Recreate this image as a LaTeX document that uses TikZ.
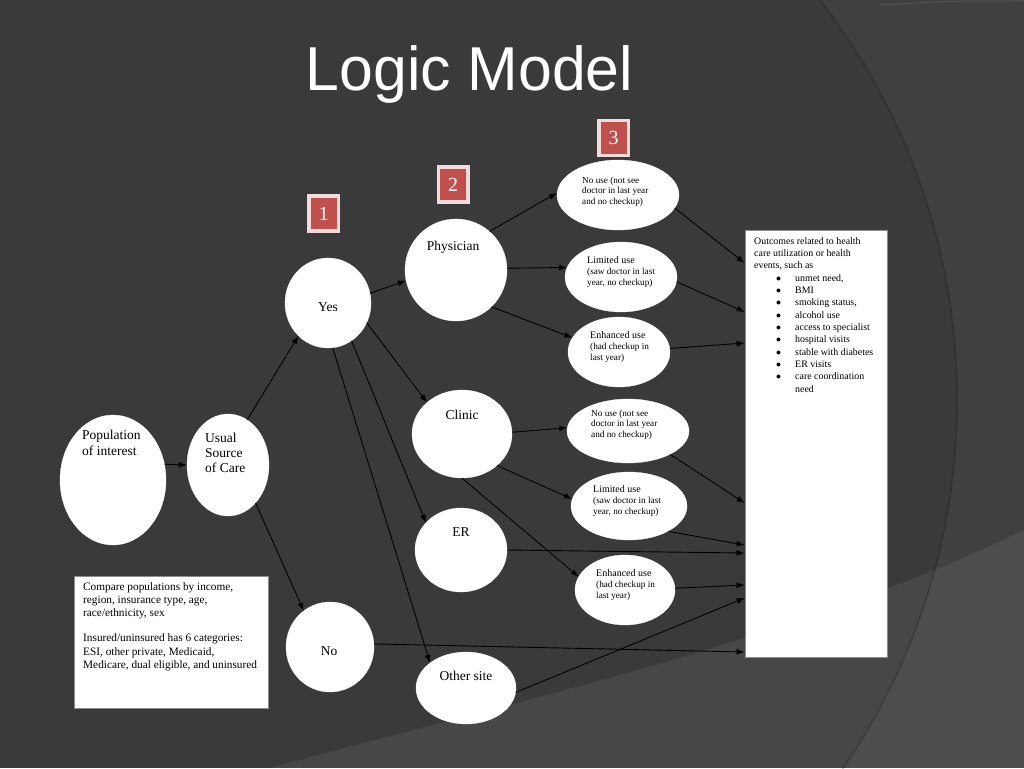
\documentclass[tikz,border=0pt]{standalone}
\usepackage{fontspec}
\setmainfont{Liberation Serif}
\newfontfamily\titlefont{Liberation Sans}
\usetikzlibrary{arrows.meta,shapes.geometric}
\definecolor{bgdark}{HTML}{3A3A3A}
\definecolor{badgered}{HTML}{C0504D}
\definecolor{badgeedge}{HTML}{F2DCDB}
\definecolor{boxedge}{HTML}{8C8C8C}
\newcommand\outbullet{\hspace*{22pt}\makebox[19pt][l]{$\bullet$}}
\begin{document}
\begin{tikzpicture}[x=1pt,y=-1pt,
  oval/.style={ellipse, fill=white, draw=white, line width=0.3pt, inner sep=0},
  bigtxt/.style={font=\fontsize{13.5}{15.5}\selectfont, text=black, inner sep=0, align=left},
  smalltxt/.style={font=\fontsize{9.2}{10.8}\selectfont, text=black, inner sep=0, align=left},
  otxt/.style={font=\fontsize{9.9}{12.35}\selectfont, text=black, inner sep=0, align=left},
  ctxt/.style={font=\fontsize{11.3}{13.4}\selectfont, text=black, inner sep=0, align=left},
  badge/.style={fill=badgered, draw=badgeedge, line width=3.5pt, minimum width=29.5pt,
    minimum height=35pt, inner sep=0, text=white, font=\fontsize{20}{20}\selectfont},
  infobox/.style={draw=boxedge, fill=white, line width=0.8pt, inner sep=0},
  arr/.style={-{Latex[length=8pt,width=6pt]}, line width=0.9pt, black}]
\useasboundingbox (0,0) rectangle (1024,768);
% background
\fill[bgdark] (0,0) rectangle (1024,768);
\begin{scope}
  \clip (0,0) rectangle (1024,768);
  \fill[white, opacity=0.03, even odd rule] (0,0) rectangle (1024,768) (305,400) circle[radius=652];
  \fill[white, opacity=0.07] (270,768) .. controls (500,705) and (800,640) .. (1024,530) -- (1024,768) -- cycle;
  \draw[black, opacity=0.2, line width=1.5pt] (305,400) circle[radius=652];
  \draw[white, opacity=0.1, line width=1pt] (880,5) .. controls (950,1) .. (1024,1);
\end{scope}
% title
\node[font=\titlefont\fontsize{62}{62}\selectfont, text=white, anchor=base, inner sep=0, xscale=0.98] (title) at (469.5,90) {Logic Model};
% badges
\node[badge] (b1) at (323.5,213.5) {1};
\node[badge] (b2) at (453,184.5) {2};
\node[badge] (b3) at (613.5,138) {3};
% ovals
\node[oval, minimum width=106, minimum height=130] (pop) at (113,480) {};
\node[oval, minimum width=82, minimum height=102] (usual) at (228,465) {};
\node[oval, minimum width=86, minimum height=90] (yes) at (328,303) {};
\node[oval, minimum width=88, minimum height=90] (no) at (330,647) {};
\node[oval, minimum width=102, minimum height=102] (phys) at (456,270) {};
\node[oval, minimum width=100, minimum height=88] (clinic) at (462,434) {};
\node[oval, minimum width=92, minimum height=84] (er) at (461,550) {};
\node[oval, minimum width=100, minimum height=72] (other) at (466,688) {};
\node[oval, minimum width=122, minimum height=70] (nu1) at (618,195) {};
\node[oval, minimum width=112, minimum height=70] (lim1) at (621,277) {};
\node[oval, minimum width=102, minimum height=70] (enh1) at (619,352) {};
\node[oval, minimum width=122, minimum height=64] (nu2) at (628,431) {};
\node[oval, minimum width=116, minimum height=68] (lim2) at (629,506) {};
\node[oval, minimum width=100, minimum height=70] (enh2) at (625,590) {};
% boxes
\node[infobox, minimum width=142, minimum height=427] (out) at (816,443.5) {};
\node[infobox, minimum width=194, minimum height=132] (cmp) at (171,642) {};
% texts
\node[bigtxt, anchor=north west] (popT) at (82,430) {Population\\of interest};
\node[bigtxt, anchor=north west, font=\fontsize{13.5}{15}\selectfont] (usualT) at (205,433) {Usual\\Source\\of Care};
\node[bigtxt, anchor=base] (yesT) at (328,311) {Yes};
\node[bigtxt, anchor=base] (noT) at (329,655) {No};
\node[bigtxt, anchor=base] (physT) at (453,250) {Physician};
\node[bigtxt, anchor=base] (clinicT) at (462,419) {Clinic};
\node[bigtxt, anchor=base] (erT) at (461,536) {ER};
\node[bigtxt, anchor=base] (otherT) at (466,680) {Other site};
\node[smalltxt, anchor=north west] (nu1T) at (582,176.5) {No use (not see\\doctor in last year\\and no checkup)};
\node[smalltxt, anchor=north west] (lim1T) at (587,256.5) {{\fontsize{10}{11}\selectfont Limited use}\\(saw doctor in last\\year, no checkup)};
\node[smalltxt, anchor=north west] (enh1T) at (590,331.5) {{\fontsize{10}{11}\selectfont Enhanced use}\\(had checkup in\\last year)};
\node[smalltxt, anchor=north west] (nu2T) at (591,409.5) {No use (not see\\doctor in last year\\and no checkup)};
\node[smalltxt, anchor=north west] (lim2T) at (593,485.5) {{\fontsize{10}{11}\selectfont Limited use}\\(saw doctor in last\\year, no checkup)};
\node[smalltxt, anchor=north west] (enh2T) at (596,569.5) {{\fontsize{10}{11}\selectfont Enhanced use}\\(had checkup in\\last year)};
\node[otxt, anchor=north west] (outT) at (754,237) {Outcomes related to health\\care utilization or health\\events, such as\\
\outbullet unmet need,\\\outbullet BMI\\\outbullet smoking status,\\\outbullet alcohol use\\
\outbullet access to specialist\\\outbullet hospital visits\\\outbullet stable with diabetes\\
\outbullet ER visits\\\outbullet care coordination\\\hspace*{41pt}need};
\node[ctxt, anchor=north west] (cmpT) at (83,582) {Compare populations by income,\\region, insurance type, age,\\race/ethnicity, sex\\[11.6pt]
Insured/uninsured has 6 categories:\\ESI, other private, Medicaid,\\Medicare, dual eligible, and uninsured};
% connectors
\draw[arr] (pop.17) -- (usual.180);
\draw[arr] (usual.67) -- (yes.-132);
\draw[arr] (usual.-54) -- (no.126);
\draw[arr] (yes.13) -- (phys.192);
\draw[arr] (yes.-27) -- (clinic.138);
\draw[arr] (yes.-58) -- (er.142);
\draw[arr] (yes.-84) -- (other.145);
\draw[arr] (phys.49) -- (nu1.178);
\draw[arr] (phys.2) -- (lim1.170);
\draw[arr] (phys.-46) -- (enh1.163);
\draw[arr] (clinic.2) -- (nu2.177);
\draw[arr] (clinic.-42) -- (lim2.173);
\draw[arr] (clinic.-90) -- (enh2.164);
\draw[arr] (nu1.-13) -- (out.west |- 0,263);
\draw[arr] (lim1.-5) -- (out.west |- 0,312);
\draw[arr] (enh1.4) -- (out.west |- 0,343);
\draw[arr] (nu2.-29) -- (out.west |- 0,503);
\draw[arr] (lim2.-33) -- (out.west |- 0,545);
\draw[arr] (er.0) -- (out.west |- 0,553);
\draw[arr] (enh2.2) -- (out.west |- 0,585);
\draw[arr] (other.-5) -- (out.west |- 0,598);
\draw[arr] (no.4) -- (out.west |- 0,652);
\end{tikzpicture}
\end{document}
